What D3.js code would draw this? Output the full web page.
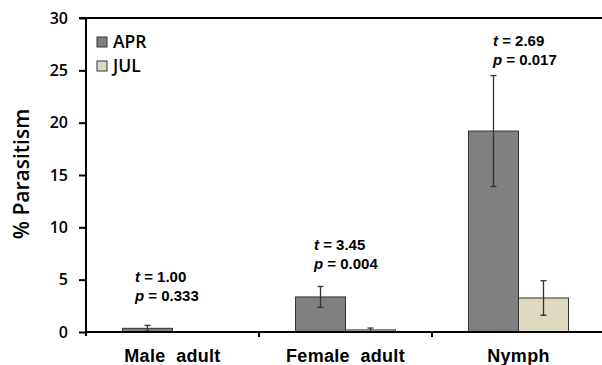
<!DOCTYPE html>
<html><head><meta charset="utf-8">
<script src="https://cdn.jsdelivr.net/npm/d3@7"></script>
<style>body{margin:0;background:#fff}svg{display:block}</style>
</head><body><svg id="c" width="602" height="365"></svg>
<script>
const categories = ["Male  adult", "Female  adult", "Nymph"];
const seriesNames = ["APR", "JUL"];
const aprValues = [0.35, 3.35, 19.2];
const aprErrors = [0.28, 1.0, 5.3];
const julValues = [0, 0.2, 3.25];
const julErrors = [0, 0.18, 1.65];
const tValues = ["1.00", "3.45", "2.69"];
const pValues = ["0.333", "0.004", "0.017"];
const yTicks = [0, 5, 10, 15, 20, 25, 30];
const colors = ["#808080", "#ddd9c3"];

(function(){
const svg = d3.select("#c");
const mL = 86, mR = 605, mT = 18, mB = 332;
const x = d3.scaleBand().domain(categories).range([mL, mR]).paddingInner(0).paddingOuter(0);
const y = d3.scaleLinear().domain([0, 30]).range([mB, mT]);
const barW = 50;
const sansUI = "Open Sans, DejaVu Sans, sans-serif";
const arial = "Liberation Sans, Arial, sans-serif";

const seriesData = [
  {name: seriesNames[0], values: aprValues, errs: aprErrors, color: colors[0], off: -barW},
  {name: seriesNames[1], values: julValues, errs: julErrors, color: colors[1], off: 0}
];

seriesData.forEach(s => {
  const g = svg.append("g");
  g.selectAll("rect").data(categories).enter().append("rect")
    .attr("x", d => x(d) + x.bandwidth()/2 + s.off)
    .attr("y", (d,i) => y(s.values[i]))
    .attr("width", barW)
    .attr("height", (d,i) => y(0) - y(s.values[i]))
    .attr("fill", s.color).attr("stroke", "#333").attr("stroke-width", 1);
  categories.forEach((c, i) => {
    if (s.errs[i] <= 0) return;
    const cx = x(c) + x.bandwidth()/2 + s.off + barW/2;
    const y1 = y(s.values[i] + s.errs[i]), y2 = y(Math.max(0, s.values[i] - s.errs[i]));
    g.append("line").attr("x1", cx).attr("x2", cx).attr("y1", y1).attr("y2", y2).attr("stroke", "#333").attr("stroke-width", 1.3);
    g.append("line").attr("x1", cx-3).attr("x2", cx+3).attr("y1", y1).attr("y2", y1).attr("stroke", "#333").attr("stroke-width", 1.3);
    g.append("line").attr("x1", cx-3).attr("x2", cx+3).attr("y1", y2).attr("y2", y2).attr("stroke", "#333").attr("stroke-width", 1.3);
  });
});

svg.append("line").attr("x1", mL-6).attr("x2", 602).attr("y1", mT).attr("y2", mT).attr("stroke", "#000").attr("stroke-width", 2);

const yAxis = d3.axisLeft(y).tickValues(yTicks).tickSize(7).tickPadding(11);
const ya = svg.append("g").attr("transform", `translate(${mL},0)`).call(yAxis);
ya.select(".domain").attr("stroke", "#000").attr("stroke-width", 2).attr("d", `M-7,${mT}H0V${mB+4}`);
ya.selectAll(".tick line").attr("stroke", "#000").attr("stroke-width", 2);
ya.selectAll(".tick text").attr("font-family", sansUI).attr("font-weight", 600).attr("font-size", 16).attr("fill", "#000");

const xb = svg.append("g").attr("transform", `translate(0,${mB})`);
xb.append("line").attr("x1", mL).attr("x2", 602).attr("y1", 0).attr("y2", 0).attr("stroke", "#000").attr("stroke-width", 2);
categories.slice(1).forEach(c => {
  xb.append("line").attr("x1", x(c)).attr("x2", x(c)).attr("y1", 0).attr("y2", 5).attr("stroke", "#000").attr("stroke-width", 2);
});
xb.selectAll("text.cat").data(categories).enter().append("text").attr("class", "cat")
  .attr("x", d => x(d) + x.bandwidth()/2).attr("y", 30)
  .attr("text-anchor", "middle").attr("font-family", arial)
  .attr("font-weight", "bold").attr("font-size", 18).attr("letter-spacing", 0.3)
  .style("white-space", "pre").text(d => d);

svg.append("text").attr("transform", `translate(29,${174}) rotate(-90)`)
  .attr("text-anchor", "middle").attr("font-family", sansUI)
  .attr("font-weight", 600).attr("font-size", 21).text("% Parasitism");

seriesNames.forEach((n, i) => {
  const ly = 37 + i*24;
  svg.append("rect").attr("x", 97).attr("y", ly).attr("width", 10).attr("height", 10)
    .attr("fill", colors[i]).attr("stroke", "#333").attr("stroke-width", 1);
  svg.append("text").attr("x", 113).attr("y", ly + 10.5).attr("font-family", sansUI).attr("font-weight", 600)
    .attr("font-size", 17.5).text(n);
});

const annX = [135, 314, 493];
const annY = [282, 250, 46];
categories.forEach((c, i) => {
  const t1 = svg.append("text").attr("x", annX[i]).attr("y", annY[i])
    .attr("font-family", arial).attr("font-weight", "bold").attr("font-size", 15);
  t1.append("tspan").attr("font-style", "italic").text("t");
  t1.append("tspan").text(" = " + tValues[i]);
  const t2 = svg.append("text").attr("x", annX[i]).attr("y", annY[i] + 18.5)
    .attr("font-family", arial).attr("font-weight", "bold").attr("font-size", 15);
  t2.append("tspan").attr("font-style", "italic").text("p");
  t2.append("tspan").text(" = " + pValues[i]);
});
})();
</script></body></html>
